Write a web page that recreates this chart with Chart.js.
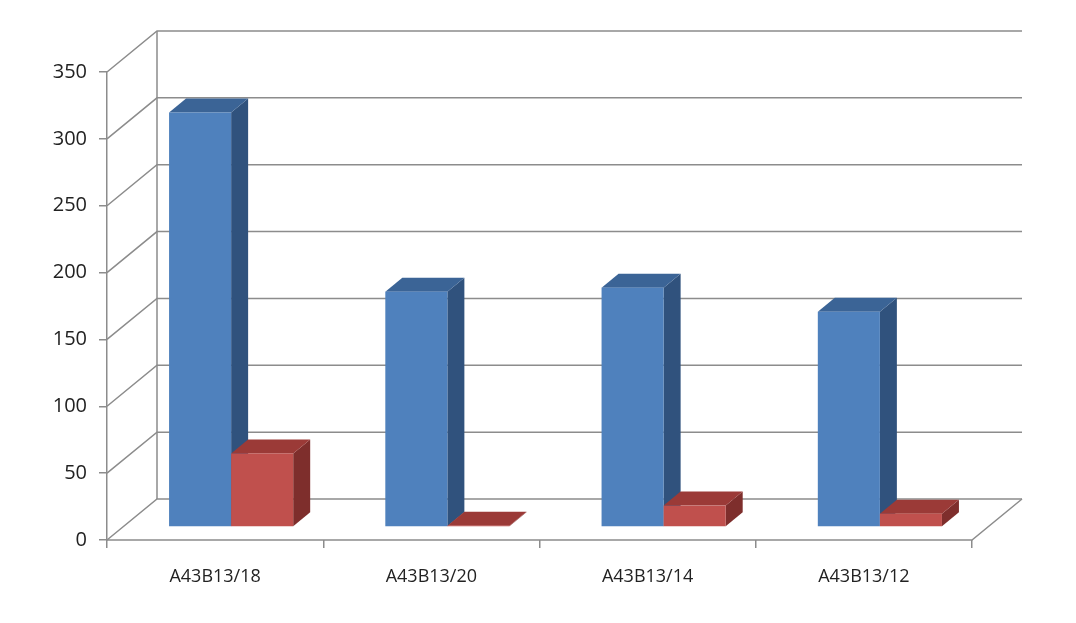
<!DOCTYPE html>
<html>
<head>
<meta charset="utf-8">
<script src="https://cdn.jsdelivr.net/npm/chart.js@4"></script>
<style>
  body { margin: 0; background: #fff; }
  #wrap { width: 1076px; height: 623px; }
</style>
</head>
<body>
<div id="wrap"><canvas id="chart"></canvas></div>
<script>
const categories = ['A43B13/18', 'A43B13/20', 'A43B13/14', 'A43B13/12'];
const seriesBlue = [310, 176, 179, 161];
const seriesRed = [55, 1, 16, 10];

// face colours: front, top, side
const faces = [
    ['#4F81BD', '#3B6496', '#30527D'],
    ['#C0504D', '#9B3A37', '#7E2E2C']
];

// 3D offsets
const wallDx = 50, wallDy = -41;   // back wall shift from front plane
const barDx = 16, barDy = -13;     // bars sit part way into the floor
const depthDx = 17, depthDy = -14; // bar thickness

const boxPlugin = {
    id: 'box3d',
    beforeDatasetsDraw(chart) {
        const ctx = chart.ctx;
        const y = chart.scales.y;
        const a = chart.chartArea;
        ctx.save();
        ctx.strokeStyle = '#8c8c8c';
        ctx.lineWidth = 1.5;
        y.ticks.forEach(t => {
            const py = y.getPixelForValue(t.value);
            ctx.beginPath();
            ctx.moveTo(a.left, py);
            ctx.lineTo(a.left + wallDx, py + wallDy);
            ctx.lineTo(a.right + wallDx, py + wallDy);
            ctx.stroke();
        });
        const y0 = y.getPixelForValue(0);
        const yTop = y.getPixelForValue(350);
        ctx.beginPath();
        ctx.moveTo(a.left + wallDx, yTop + wallDy);
        ctx.lineTo(a.left + wallDx, y0 + wallDy);
        ctx.moveTo(a.left, y0);
        ctx.lineTo(a.right, y0);
        ctx.lineTo(a.right + wallDx, y0 + wallDy);
        ctx.stroke();
        ctx.restore();
    },
    afterDatasetsDraw(chart) {
        const ctx = chart.ctx;
        ctx.save();
        chart.data.datasets.forEach((ds, di) => {
            const [front, top, side] = faces[di];
            chart.getDatasetMeta(di).data.forEach(el => {
                const x0 = el.x - el.width / 2 + barDx;
                const x1 = x0 + el.width;
                const yt = el.y + barDy;
                const yb = el.base + barDy;
                ctx.fillStyle = side;
                ctx.beginPath();
                ctx.moveTo(x1, yb);
                ctx.lineTo(x1 + depthDx, yb + depthDy);
                ctx.lineTo(x1 + depthDx, yt + depthDy);
                ctx.lineTo(x1, yt);
                ctx.closePath();
                ctx.fill();
                ctx.fillStyle = top;
                ctx.beginPath();
                ctx.moveTo(x0, yt);
                ctx.lineTo(x0 + depthDx, yt + depthDy);
                ctx.lineTo(x1 + depthDx, yt + depthDy);
                ctx.lineTo(x1, yt);
                ctx.closePath();
                ctx.fill();
                ctx.fillStyle = front;
                ctx.fillRect(x0, yt, el.width, yb - yt);
            });
        });
        ctx.restore();
    }
};

new Chart(document.getElementById('chart'), {
    type: 'bar',
    data: {
        labels: categories,
        datasets: [
            { data: seriesBlue, backgroundColor: 'rgba(0,0,0,0)' },
            { data: seriesRed, backgroundColor: 'rgba(0,0,0,0)' }
        ]
    },
    options: {
        responsive: true,
        maintainAspectRatio: false,
        animation: false,
        layout: { padding: { left: 0, right: 104, top: 72, bottom: 0 } },
        plugins: { legend: { display: false }, tooltip: { enabled: false } },
        datasets: { bar: { barPercentage: 1, categoryPercentage: 0.574 } },
        scales: {
            x: {
                afterFit: s => { s.height = 83; },
                grid: { drawOnChartArea: false, tickLength: 8, color: '#8c8c8c', lineWidth: 1.5 },
                border: { display: false },
                ticks: { color: '#222', font: { family: 'Open Sans', size: 18 }, padding: 18 }
            },
            y: {
                min: 0, max: 350,
                afterFit: s => { s.width = 107; },
                grid: { drawOnChartArea: false, tickLength: 8, color: '#8c8c8c', lineWidth: 1.5 },
                border: { display: true, color: '#8c8c8c', width: 1.5 },
                ticks: { stepSize: 50, color: '#222', font: { family: 'Open Sans', size: 20 }, padding: 12 }
            }
        }
    },
    plugins: [boxPlugin]
});
</script>
</body>
</html>
